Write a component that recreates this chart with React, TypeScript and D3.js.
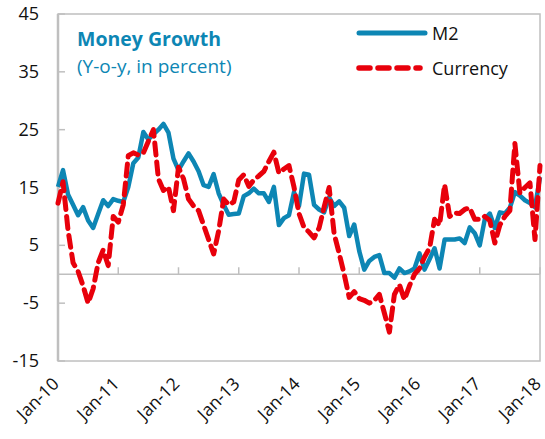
import React from "react";
import * as d3 from "d3";

const W = 545;
const H = 439;

const yTicks = [45, 35, 25, 15, 5, -5, -15];
const xTickLabels = ["Jan-10", "Jan-11", "Jan-12", "Jan-13", "Jan-14", "Jan-15", "Jan-16", "Jan-17", "Jan-18"];

// Monthly values, Jan-10 .. Jan-18
const m2 = [
  15.1, 18.0, 13.8, 12.0, 10.2, 11.6, 9.3, 8.0, 10.4, 12.8, 11.8, 13.0,
  12.7, 12.5, 15.1, 19.2, 20.2, 24.6, 23.3, 24.2, 25.0, 26.0, 24.5, 20.0,
  18.0, 19.5, 20.9, 19.5, 17.8, 15.4, 15.1, 17.3, 14.0, 12.0, 10.3, 10.4,
  10.5, 13.5, 14.0, 14.8, 14.0, 14.0, 12.5, 15.1, 8.5, 9.7, 10.2, 14.2,
  11.8, 17.4, 17.2, 12.0, 11.2, 10.7, 13.3, 11.8, 12.6, 11.5, 6.6, 8.6,
  4.0, 0.8, 2.3, 3.0, 3.3, 0.2, 0.2, -0.6, 1.0, 0.2, 0.5, 1.0,
  3.6, 0.8, 2.6, 4.5, 1.0, 6.0, 6.0, 6.0, 6.2, 5.4, 8.1, 7.1,
  5.0, 9.5, 10.5, 8.0, 10.7, 10.5, 11.5, 14.2, 13.6, 12.8, 12.3, 11.6,
  16.8,
];

const currency = [
  12.3, 16.0, 7.6, 2.0, 0.5, -2.0, -5.0, -2.5, 2.0, 4.2, 1.5, 10.0,
  9.0, 12.0, 20.5, 21.0, 20.6, 21.0, 23.0, 25.0, 16.5, 14.5, 15.1, 11.0,
  18.5, 16.5, 13.0, 11.8, 11.0, 8.5, 6.0, 3.5, 7.5, 13.0, 12.0, 12.5,
  16.3, 17.2, 15.2, 16.3, 17.0, 17.8, 19.5, 21.1, 17.5, 18.2, 18.8, 15.1,
  10.5, 8.1, 7.3, 6.3, 8.0, 11.6, 15.0, 7.0, 3.6, 0.0, -4.0, -3.0,
  -4.2, -4.5, -5.0, -4.5, -3.5, -6.7, -10.0, -3.5, -1.8, -4.4, -2.0, 0.0,
  1.0, 3.0, 4.5, 9.5, 8.5, 15.5, 10.0, 10.6, 10.5, 11.2, 11.5, 9.5,
  9.5, 10.0, 9.3, 5.4, 8.5, 10.0, 11.0, 22.6, 14.0, 15.0, 15.8, 6.0,
  18.8,
];

const BLUE = "#0d86b4";
const RED = "#e8000b";
const GRID = "#bfbfbf";
const FONT = "'Open Sans', Lato, sans-serif";

export default function App() {
  const left = 58, right = 540, top = 14, bottom = 361;
  const x = d3.scaleLinear().domain([0, 96]).range([left, right]);
  const y = d3.scaleLinear().domain([-15, 45]).range([bottom, top]);
  const line = d3
    .line<number>()
    .x((_, i) => x(i))
    .y((d) => y(d))
    .curve(d3.curveLinear);

  return (
    <svg
      width={W}
      height={H}
      style={{ position: "absolute", left: 0, top: 0, background: "#fff" }}
      fontFamily={FONT}
    >
      {/* frame */}
      <rect x={left} y={top} width={right - left} height={bottom - top} fill="none" stroke={GRID} strokeWidth={1.5} />
      <line x1={left} x2={left} y1={top} y2={bottom} stroke={GRID} strokeWidth={2.5} />
      {/* zero line */}
      <line x1={left} x2={right} y1={y(0)} y2={y(0)} stroke={GRID} strokeWidth={1.5} />
      {/* x ticks */}
      {xTickLabels.map((lab, i) => {
        const xx = x(i * 12);
        return (
          <g key={lab}>
            <line x1={xx} x2={xx} y1={y(0)} y2={y(0) - 7} stroke={GRID} strokeWidth={1.5} />
            <text
              transform={`translate(${xx + 2},${bottom + 24}) rotate(-45)`}
              textAnchor="end"
              fontSize={17.5}
              fill="#111"
            >
              {lab}
            </text>
          </g>
        );
      })}
      {/* y ticks */}
      {yTicks.map((t) => (
        <g key={t}>
          <line x1={left} x2={left + 7} y1={y(t)} y2={y(t)} stroke={GRID} strokeWidth={1.5} />
          <text x={39} y={y(t) + 6} textAnchor="end" fontSize={18} fill="#111">
            {t}
          </text>
        </g>
      ))}
      {/* series */}
      <path d={line(m2) ?? ""} fill="none" stroke={BLUE} strokeWidth={4.5} strokeLinejoin="round" />
      <path
        d={line(currency) ?? ""}
        fill="none"
        stroke={RED}
        strokeWidth={5}
        strokeDasharray="12 7"
        strokeLinecap="round"
        strokeLinejoin="round"
      />
      {/* title */}
      <text x={77} y={46} fontSize={19.5} fontWeight="bold" fill={BLUE}>
        Money Growth
      </text>
      <text x={77} y={73} fontSize={19} fill={BLUE}>
        (Y-o-y, in percent)
      </text>
      {/* legend */}
      <line x1={359} x2={425} y1={33} y2={33} stroke={BLUE} strokeWidth={5} strokeLinecap="round" />
      <text x={432} y={40} fontSize={18} fill="#111">M2</text>
      <line x1={359} x2={420} y1={68} y2={68} stroke={RED} strokeWidth={5.5} strokeDasharray="11 8" strokeLinecap="round" />
      <text x={432} y={75} fontSize={18} fill="#111">Currency</text>
    </svg>
  );
}
